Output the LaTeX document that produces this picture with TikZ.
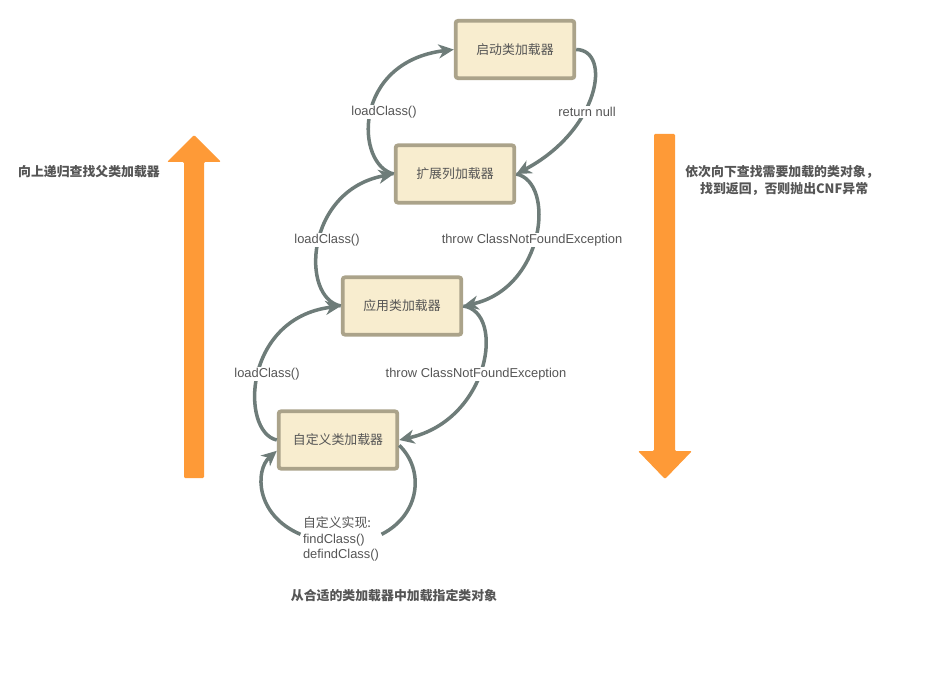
\documentclass[tikz,border=0pt]{standalone}
\usepackage{fontspec}
\setmainfont{Liberation Sans}
\newfontfamily\cjk{Noto Sans CJK SC}
\usetikzlibrary{arrows.meta}
\definecolor{boxfill}{HTML}{F8EDCF}
\definecolor{boxline}{HTML}{ABA38A}
\definecolor{flowline}{HTML}{6E7C79}
\definecolor{bigarrow}{HTML}{FE9A37}
\definecolor{txtgray}{HTML}{555555}

\begin{document}
\begin{tikzpicture}[x=0.03cm, y=-0.03cm,
    loader/.style={draw=boxline, fill=boxfill, line width=3.2pt, rounded corners=2pt,
        minimum width=3.56cm, minimum height=1.72cm, text=txtgray, font=\cjk\fontsize{11pt}{13pt}\selectfont},
    flow/.style={draw=flowline, line width=3pt, -{Stealth[length=13pt, width=12pt, inset=4pt]}},
    flowlabel/.style={fill=white, inner sep=1pt, text=txtgray, font=\fontsize{11pt}{12pt}\selectfont},
    sidenote/.style={text=txtgray, font=\cjk\bfseries\fontsize{11pt}{14.5pt}\selectfont}]
    % Frame
    \useasboundingbox (0,0) rectangle (926,678);

    % Big orange arrows
    \fill[bigarrow, rounded corners=1pt] (184,478) -- (184,162) -- (167,162) -- (194,135)
        -- (221,162) -- (204,162) -- (204,478) -- cycle;
    \fill[bigarrow, rounded corners=1pt] (654,134) -- (654,451) -- (638,451) -- (665,479)
        -- (692,451) -- (675,451) -- (675,134) -- cycle;

    % Side notes
    \node[sidenote] (up) at (89,172) {向上递归查找父类加载器};
    \node[sidenote, align=center] (down) at (782,180) {依次向下查找需要加载的类对象，\\ \,\,找到返回，否则抛出CNF异常};
    \node[sidenote] (bottom) at (394,596) {从合适的类加载器中加载指定类对象};

    % Loaders
    \node[loader] (boot) at (515,49.5) {启动类加载器};
    \node[loader] (ext) at (455,174) {扩展列加载器};
    \node[loader] (app) at (402,306) {应用类加载器};
    \node[loader] (cust) at (338,440) {自定义类加载器};

    % Delegation upwards
    \draw[flow] (ext.west) .. controls (355,165) and (352,62) .. (boot.west);
    \draw[flow] (app.west) .. controls (300,298) and (305,190) .. (ext.west);
    \draw[flow] (cust.west) .. controls (240,432) and (243,318) .. (app.west);

    % Fallback downwards
    \draw[flow] (boot.east) .. controls (612,50) and (600,130) .. (ext.east);
    \draw[flow] (ext.east) .. controls (556,182) and (545,288) .. (app.east);
    \draw[flow] (app.east) .. controls (506,312) and (490,420) .. (cust.east);

    % Edge labels
    \node[flowlabel] (l1) at (384,112) {loadClass()};
    \node[flowlabel] (r1) at (587,112) {return null};
    \node[flowlabel] (l2) at (327,240) {loadClass()};
    \node[flowlabel] (r2) at (532,240) {throw ClassNotFoundException};
    \node[flowlabel] (l3) at (267,374) {loadClass()};
    \node[flowlabel] (r3) at (476,374) {throw ClassNotFoundException};

    % Custom loading loop
    \node[text=txtgray, align=left, inner sep=2pt, font=\fontsize{11pt}{13.5pt}\selectfont] (impl) at (341,539)
        {{\cjk 自定义实现:}\\findClass()\\defindClass()};
    \draw[flowline, line width=3pt] (cust.-5) .. controls (425,470) and (420,515) .. ([yshift=4pt]impl.east);
    \draw[flow] ([yshift=4pt]impl.west) .. controls (255,515) and (255,470) .. (cust.190);
\end{tikzpicture}
\end{document}
